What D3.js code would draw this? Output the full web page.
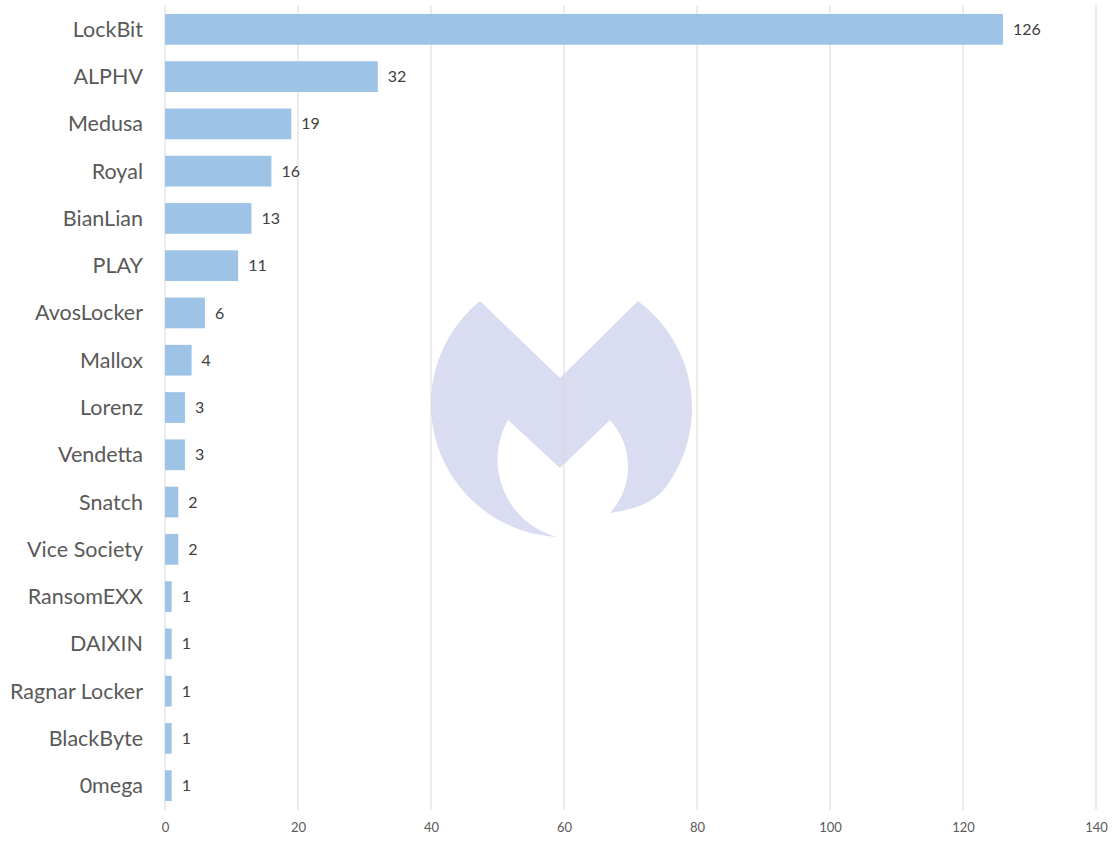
<!DOCTYPE html>
<html>
<head>
<meta charset="utf-8">
<script src="https://cdn.jsdelivr.net/npm/d3@7"></script>
<style>
    body { margin: 0; background: #fff; }
    svg { display: block; font-family: Lato, "Open Sans", sans-serif; }
</style>
</head>
<body>
<div class="chart"></div>
<script>
// группы и количество атак
const groups = ['LockBit', 'ALPHV', 'Medusa', 'Royal', 'BianLian', 'PLAY', 'AvosLocker', 'Mallox',
    'Lorenz', 'Vendetta', 'Snatch', 'Vice Society', 'RansomEXX', 'DAIXIN', 'Ragnar Locker', 'BlackByte', '0mega']
const attacks = [126, 32, 19, 16, 13, 11, 6, 4, 3, 3, 2, 2, 1, 1, 1, 1, 1]
const xTicks = [0, 20, 40, 60, 80, 100, 120, 140]

const width = 1114
const height = 841
const margin = { top: 5, right: 18, bottom: 31, left: 165 }

const svg = d3.select('.chart')
    .append('svg')
    .attr('width', width)
    .attr('height', height)

const x = d3.scaleLinear()
    .domain([0, 140])
    .range([margin.left, width - margin.right])

const y = d3.scaleBand()
    .domain(groups)
    .range([margin.top, height - margin.bottom])
    .paddingInner(0.35)
    .paddingOuter(0.19)

// водяной знак (логотип) за графиком
const cx = 560, cy = 407
const logo = `M -80,-106 L 0,-29 L 78,-106 A 133 133 0 0 1 106,80
    Q 90,101 50,106
    A 69 69 0 0 0 50,13 L 0,61 L -52,13 A 80 80 0 0 0 -3,130
    A 133 133 0 0 1 -80,-106 Z`
svg.append('path')
    .attr('d', logo)
    .attr('transform', `translate(${cx},${cy})`)
    .attr('fill', '#dadcf2')

// вертикальная сетка
svg.append('g')
    .selectAll('line')
    .data(xTicks)
    .enter()
    .append('line')
    .attr('x1', d => x(d))
    .attr('x2', d => x(d))
    .attr('y1', margin.top)
    .attr('y2', height - margin.bottom)
    .attr('stroke', '#d9d9d9')
    .attr('stroke-width', 1)

// ось x
const axis = svg.append('g')
    .attr('transform', `translate(0,${height - margin.bottom})`)
    .call(d3.axisBottom(x).tickValues(xTicks).tickSize(0).tickPadding(13))
axis.select('.domain').remove()
axis.selectAll('text')
    .attr('fill', '#595959')
    .style('font-size', '13px')
    .style('font-family', 'Lato, sans-serif')

// столбцы
svg.append('g')
    .selectAll('rect')
    .data(groups)
    .enter()
    .append('rect')
    .attr('x', x(0))
    .attr('y', d => y(d))
    .attr('width', (d, i) => x(attacks[i]) - x(0))
    .attr('height', y.bandwidth())
    .attr('fill', '#9dc3e6')

// подписи значений
svg.append('g')
    .selectAll('text')
    .data(groups)
    .enter()
    .append('text')
    .attr('x', (d, i) => x(attacks[i]) + 10)
    .attr('y', d => y(d) + y.bandwidth() / 2)
    .attr('dy', '0.35em')
    .attr('fill', '#404040')
    .style('font-size', '16px')
    .text((d, i) => attacks[i])

// подписи категорий
svg.append('g')
    .selectAll('text')
    .data(groups)
    .enter()
    .append('text')
    .attr('x', 143)
    .attr('y', d => y(d) + y.bandwidth() / 2)
    .attr('dy', '0.35em')
    .attr('text-anchor', 'end')
    .attr('fill', '#595959')
    .style('font-size', '21.5px')
    .text(d => d)
</script>
</body>
</html>
